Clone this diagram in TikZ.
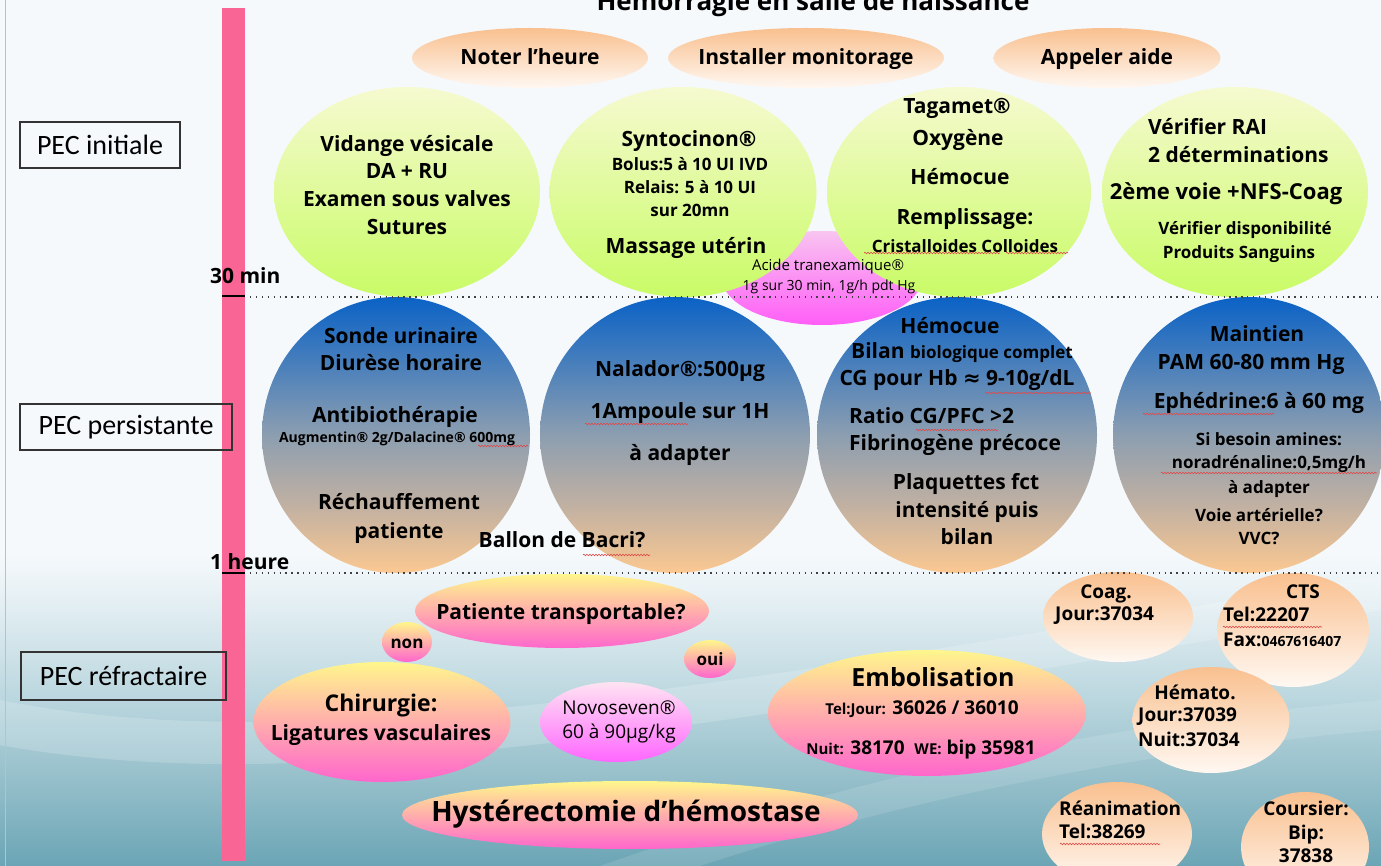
\documentclass[tikz,border=0pt]{standalone}
\usepackage{fontspec}
\setmainfont{Open Sans}
\newfontfamily\calfont{Carlito}
\newfontfamily\dvfont{DejaVu Sans}
\usetikzlibrary{shapes.geometric,decorations.pathmorphing}
\definecolor{bgTop}{HTML}{F5F9FC}
\definecolor{bgA}{HTML}{E6F0F4}
\definecolor{bgB}{HTML}{BDD8E0}
\definecolor{bgC}{HTML}{8DBAC6}
\definecolor{bgD}{HTML}{6BA5B5}
\definecolor{barpink}{HTML}{F96595}
\definecolor{peachTop}{HTML}{F9C08F}
\definecolor{peachBot}{HTML}{FFF8F2}
\definecolor{grTop}{HTML}{F6FAD0}
\definecolor{grBot}{HTML}{C9FB66}
\definecolor{bcTop}{HTML}{0A62C6}
\definecolor{bcMid}{HTML}{8C9EB0}
\definecolor{bcMidB}{HTML}{C2B1A2}
\definecolor{bcBot}{HTML}{FBC891}
\definecolor{mgTop}{HTML}{F8C4F0}
\definecolor{mgBot}{HTML}{FF5EF7}
\definecolor{ypTop}{HTML}{FFF68C}
\definecolor{ypMid}{HTML}{FFB4A6}
\definecolor{ypBot}{HTML}{FF66CC}
\definecolor{nvTop}{HTML}{FFE4F2}
\definecolor{nvBot}{HTML}{FF66FF}
\definecolor{squig}{HTML}{E04848}
\pgfdeclareverticalshading{bgshade}{100bp}{color(0bp)=(bgD); color(25bp)=(bgD); color(29bp)=(bgC); color(35bp)=(bgB); color(40.5bp)=(bgA); color(43bp)=(bgTop); color(100bp)=(bgTop)}
\pgfdeclareverticalshading{blueshade}{100bp}{color(0bp)=(bcBot); color(25bp)=(bcBot); color(37bp)=(bcMidB); color(50bp)=(bcMid); color(75bp)=(bcTop); color(100bp)=(bcTop)}
\tikzset{
  shp/.style={ellipse, inner sep=0pt, draw=none},
  peach/.style={shp, top color=peachTop, bottom color=peachBot},
  green/.style={shp, top color=grTop, bottom color=grBot},
  blue/.style={shp, shading=blueshade},
  mag/.style={shp, top color=mgTop, bottom color=mgBot},
  yp/.style={shp, top color=ypTop, middle color=ypMid, bottom color=ypBot},
  nv/.style={shp, top color=nvTop, bottom color=nvBot},
  base/.style={inner sep=0pt, text height=1.3em, text depth=0pt, anchor=center},
  tA/.style={base, font=\bfseries\fontsize{21}{21}\selectfont},
  tB/.style={base, font=\bfseries\fontsize{17}{17}\selectfont},
  tC/.style={base, font=\bfseries\fontsize{14}{14}\selectfont},
  tR/.style={base, font=\fontsize{15}{15}\selectfont},
  tK/.style={base, font=\bfseries\fontsize{19}{19}\selectfont},
  pec/.style={draw=black!80, line width=1.2pt, font=\calfont\fontsize{28}{28}\selectfont, inner sep=0pt, minimum height=46pt},
  dotline/.style={black!75, line width=1.3pt, dash pattern=on 1.3pt off 4.6pt},
  squ/.style={squig, line width=0.6pt, decorate, decoration={snake, amplitude=0.8pt, segment length=3pt}},
}
\begin{document}
\begin{tikzpicture}[x=1pt,y=-1pt]
\useasboundingbox (0,0) rectangle (1381,866);
\shade[shading=bgshade] (0,0) rectangle (1381,866);
\fill[white, opacity=0.18] (0,700) .. controls (300,760) and (700,690) .. (1381,575) -- (1381,610) .. controls (700,730) and (300,800) .. (0,745) -- cycle;
\fill[white, opacity=0.12] (600,866) .. controls (900,760) and (1150,720) .. (1381,700) -- (1381,730) .. controls (1150,750) and (900,800) .. (700,866) -- cycle;
\draw[black!25, line width=0.8pt] (5,0) -- (5,866);
% title
\node[font=\bfseries\fontsize{26}{26}\selectfont, anchor=base, inner sep=0pt] (title) at (813,11) {Hémorragie en salle de naissance};
% time bar
\fill[barpink] (222,8) rectangle (245,861);
\draw[black, line width=2.6pt] (222,296) -- (245,296);
\draw[black, line width=2.6pt] (222,573) -- (245,573);
\node[tK, anchor=west, font=\bfseries\fontsize{21}{21}\selectfont] (t30) at (210,277) {30 min};
\node[tK, anchor=west, font=\bfseries\fontsize{21}{21}\selectfont] (t1h) at (210,563) {1 heure};
% PEC labels
\node[pec, minimum width=160pt] (pec1) at (100,145) {PEC initiale};
\node[pec, minimum width=212pt] (pec2) at (126,427) {PEC persistante};
\node[pec, minimum width=205pt, minimum height=48pt] (pec3) at (123.5,676) {PEC réfractaire};
% top ellipses
\node[peach, minimum width=236pt, minimum height=60pt] (e1) at (530,58) {};
\node[peach, minimum width=276pt, minimum height=60pt] (e2) at (806,58) {};
\node[peach, minimum width=227pt, minimum height=60pt] (e3) at (1107,58) {};
\node[tA] (e1t) at (e1) {Noter l’heure};
\node[tA] (e2t) at (e2) {Installer monitorage};
\node[tA] (e3t) at (e3) {Appeler aide};
% Acide ellipse (behind)
\node[mag, minimum width=200pt, minimum height=94pt] (ac) at (822,278) {};
% green circles
\node[green, minimum width=266pt, minimum height=210pt] (g1) at (407,192) {};
\node[green, minimum width=267pt, minimum height=210pt] (g2) at (683,192) {};
\node[green, minimum width=264pt, minimum height=210pt] (g3) at (959,192) {};
\node[green, minimum width=266pt, minimum height=210pt] (g4) at (1235,192) {};
\node[tA] (g1a) at (407,145) {Vidange vésicale};
\node[tA] (g1b) at (407,172) {DA + RU};
\node[tA] (g1c) at (407,200) {Examen sous valves};
\node[tA] (g1d) at (407,228) {Sutures};
\node[tA] (g2a) at (689,140) {Syntocinon®};
\node[tB] (g2b) at (690,164) {Bolus:5 à 10 UI IVD};
\node[tB] (g2c) at (690,187) {Relais: 5 à 10 UI};
\node[tB] (g2d) at (690,210) {sur 20mn};
\node[tA] (g2e) at (686,247) {Massage utérin};
\node[tA] (g3a) at (957,107) {Tagamet®};
\node[tA] (g3b) at (958,139) {Oxygène};
\node[tA] (g3c) at (960,178) {Hémocue};
\node[tA] (g3d) at (965,218) {Remplissage:};
\node[tB] (g3e) at (965,246) {Cristalloides Colloides};
\node[tA, anchor=west] (g4a) at (1148,128) {Vérifier RAI};
\node[tA, anchor=west] (g4b) at (1148,156) {2 déterminations};
\node[tA, font=\bfseries\fontsize{22}{22}\selectfont] (g4c) at (1226,193) {2ème voie +NFS-Coag};
\node[tB] (g4d) at (1245,228) {Vérifier disponibilité};
\node[tB] (g4e) at (1239,252) {Produits Sanguins};
\node[tR] (ac1) at (828,264) {Acide tranexamique®};
\node[tR, font=\fontsize{14}{14}\selectfont] (ac2) at (829,284) {1g sur 30 min, 1g/h pdt Hg};
% blue circles
\node[blue, minimum width=268pt, minimum height=276pt] (b1) at (396,435) {};
\node[blue, minimum width=270pt, minimum height=276pt] (b2) at (675,435) {};
\node[blue, minimum width=280pt, minimum height=276pt] (b3) at (957,435) {};
\node[blue, minimum width=272pt, minimum height=276pt] (b4) at (1249,435) {};
\node[tA] (b1a) at (401,337) {Sonde urinaire};
\node[tA] (b1b) at (401,364) {Diurèse horaire};
\node[tA] (b1c) at (395,416) {Antibiothérapie};
\node[tC] (b1d) at (397,436) {Augmentin® 2g/Dalacine® 600mg};
\node[tA] (b1e) at (399,503) {Réchauffement};
\node[tA] (b1f) at (399,532) {patiente};
\node[tA] (bac) at (562,541) {Ballon de Bacri?};
\node[tA] (b2a) at (680,370) {Nalador®:500µg};
\node[tA] (b2b) at (680,412) {1Ampoule sur 1H};
\node[tA] (b2c) at (680,454) {à adapter};
\node[tA] (b3a) at (950,327) {Hémocue};
\node[tA] (b3b) at (962,352) {Bilan {\fontsize{17}{17}\selectfont biologique complet}};
\node[tA] (b3c) at (957,379) {CG pour Hb {\dvfont ≈} 9-10g/dL};
\node[tA, anchor=west] (b3d) at (849,417) {Ratio CG/PFC >2};
\node[tA, anchor=west] (b3e) at (849,444) {Fibrinogène précoce};
\node[tA] (b3f) at (966,483) {Plaquettes fct};
\node[tA] (b3g) at (967,511) {intensité puis};
\node[tA] (b3h) at (967,538) {bilan};
\node[tA] (b4a) at (1257,335) {Maintien};
\node[tA] (b4b) at (1251,363) {PAM 60-80 mm Hg};
\node[tA] (b4c) at (1259,402) {Ephédrine:6 à 60 mg};
\node[tB] (b4d) at (1269,439) {Si besoin amines:};
\node[tB] (b4e) at (1269,462) {noradrénaline:0,5mg/h};
\node[tB] (b4f) at (1269,487) {à adapter};
\node[tB] (b4g) at (1259,515) {Voie artérielle?};
\node[tB] (b4h) at (1259,538) {VVC?};
% bottom part
\node[yp, minimum width=294pt, minimum height=74pt] (pt) at (562,611) {};
\node[tA] (ptt) at (561,613) {Patiente transportable?};
\node[yp, minimum width=50pt, minimum height=40pt] (non) at (407,642) {};
\node[tB] (nont) at (non) {non};
\node[yp, minimum width=52pt, minimum height=38pt] (oui) at (710,659) {};
\node[tB] (ouit) at (oui) {oui};
\node[yp, minimum width=257pt, minimum height=120pt] (ch) at (382,722) {};
\node[tA, font=\bfseries\fontsize{23}{23}\selectfont] (ch1) at (381,705) {Chirurgie:};
\node[tA] (ch2) at (381,734) {Ligatures vasculaires};
\node[nv, minimum width=152pt, minimum height=80pt] (nv) at (616,722) {};
\node[base, font=\fontsize{19}{19}\selectfont] (nv1) at (619,708) {Novoseven®};
\node[base, font=\fontsize{19}{19}\selectfont] (nv2) at (619,732) {60 à 90µg/kg};
\node[yp, minimum width=318pt, minimum height=126pt] (em) at (927,713) {};
\node[tA, font=\bfseries\fontsize{25}{25}\selectfont] (em1) at (933,680) {Embolisation};
\node[tK] (em2) at (922,708) {{\fontsize{15}{15}\selectfont Tel:Jour:} 36026 / 36010};
\node[tK] (em3) at (921,748) {{\fontsize{15}{15}\selectfont Nuit:} 38170\ \ {\fontsize{15}{15}\selectfont WE:} bip 35981};
\node[yp, minimum width=456pt, minimum height=68pt] (hy) at (630,815) {};
\node[tA, font=\bfseries\fontsize{28}{28}\selectfont] (hyt) at (626,815) {Hystérectomie d’hémostase};
% contacts
\node[peach, minimum width=150pt, minimum height=90pt] (co) at (1118,617) {};
\node[tK] (co1) at (1106,592) {Coag.};
\node[tK, anchor=west] (co2) at (1055,614) {Jour:37034};
\node[peach, minimum width=152pt, minimum height=114pt] (cts) at (1293,630) {};
\node[tK] (cts1) at (1303,592) {CTS};
\node[tK, anchor=west] (cts2) at (1223,615) {Tel:22207};
\node[tK, anchor=west] (cts3) at (1223,640) {Fax:{\fontsize{14}{14}\selectfont 0467616407}};
\node[peach, minimum width=157pt, minimum height=106pt] (he) at (1211,720) {};
\node[tK] (he1) at (1195,693) {Hémato.};
\node[tK, anchor=west] (he2) at (1138,715) {Jour:37039};
\node[tK, anchor=west] (he3) at (1138,740) {Nuit:37034};
\node[peach, minimum width=150pt, minimum height=104pt] (re) at (1117,834) {};
\node[tK, anchor=west] (re1) at (1059,809) {Réanimation};
\node[tK, anchor=west] (re2) at (1059,832) {Tel:38269};
\node[peach, minimum width=128pt, minimum height=110pt] (cou) at (1305,847) {};
\node[tK] (cou1) at (1306,809) {Coursier:};
\node[tK] (cou2) at (1306,833) {Bip:};
\node[tK] (cou3) at (1306,856) {37838};
% dotted time lines
\draw[dotline] (250,297) -- (1381,297);
\draw[dotline] (250,573) -- (1381,573);
% spell-check squiggles
\draw[squ] (864,253) -- (1000,253);
\draw[squ] (1006,253) -- (1068,253);
\draw[squ] (585,424) -- (688,424);
\draw[squ] (478,446) -- (528,446);
\draw[squ] (583,555) -- (650,555);
\draw[squ] (985,393) -- (1091,393);
\draw[squ] (916,430) -- (998,430);
\draw[squ] (1143,414) -- (1274,414);
\draw[squ] (1161,473) -- (1377,473);
\draw[squ] (1223,627) -- (1322,627);
\draw[squ] (1060,844) -- (1160,844);
\end{tikzpicture}
\end{document}
